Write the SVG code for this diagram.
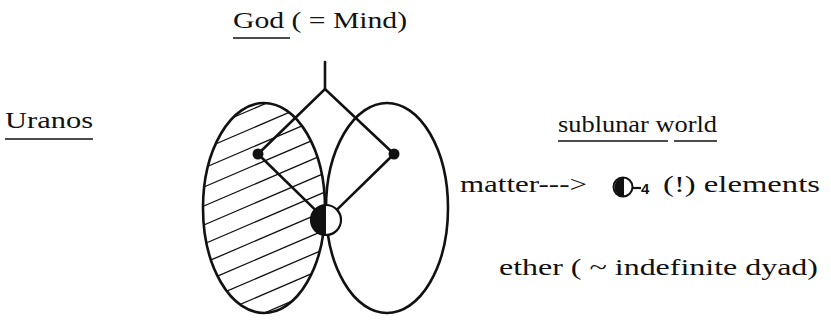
<svg xmlns="http://www.w3.org/2000/svg" width="831" height="321" viewBox="0 0 831 321">
<style>
text{font-family:'Liberation Serif','DejaVu Serif',serif;font-size:24px;fill:#111}
.ln{stroke:#111;stroke-width:2.6;fill:none;stroke-linecap:round;stroke-linejoin:miter}
.ul{stroke:#111;stroke-width:1.6}
.h{stroke:#111;stroke-width:1.3}
</style>
<defs>
<clipPath id="lc"><ellipse cx="264" cy="208" rx="61" ry="105"/></clipPath>
</defs>
<rect width="831" height="321" fill="#fff"/>
<g id="uranos-sphere">
<g clip-path="url(#lc)">
<g id="hatch">
<line class="h" x1="190" y1="60" x2="340" y2="-4.5"/>
<line class="h" x1="190" y1="79" x2="340" y2="14.5"/>
<line class="h" x1="190" y1="98" x2="340" y2="33.5"/>
<line class="h" x1="190" y1="117" x2="340" y2="52.5"/>
<line class="h" x1="190" y1="136" x2="340" y2="71.5"/>
<line class="h" x1="190" y1="155" x2="340" y2="90.5"/>
<line class="h" x1="190" y1="174" x2="340" y2="109.5"/>
<line class="h" x1="190" y1="193" x2="340" y2="128.5"/>
<line class="h" x1="190" y1="212" x2="340" y2="147.5"/>
<line class="h" x1="190" y1="231" x2="340" y2="166.5"/>
<line class="h" x1="190" y1="250" x2="340" y2="185.5"/>
<line class="h" x1="190" y1="269" x2="340" y2="204.5"/>
<line class="h" x1="190" y1="288" x2="340" y2="223.5"/>
<line class="h" x1="190" y1="307" x2="340" y2="242.5"/>
<line class="h" x1="190" y1="326" x2="340" y2="261.5"/>
<line class="h" x1="190" y1="345" x2="340" y2="280.5"/>
<line class="h" x1="190" y1="364" x2="340" y2="299.5"/>
<line class="h" x1="190" y1="383" x2="340" y2="318.5"/>
</g>
</g>
<ellipse class="ln" cx="264" cy="208" rx="61" ry="105"/>
</g>
<g id="sublunar-sphere">
<ellipse class="ln" cx="387" cy="208" rx="61" ry="105"/>
</g>
<g id="connectors">
<polyline class="ln" points="325,62 325,89"/>
<polyline class="ln" points="258,154 325,89 394,154"/>
<line class="ln" x1="258" y1="154" x2="315" y2="209.6"/>
<line class="ln" x1="394" y1="154" x2="337" y2="209.6"/>
</g>
<g id="dot-left"><circle cx="258" cy="154" r="5.5" fill="#111"/></g>
<g id="dot-right"><circle cx="394" cy="154" r="5.5" fill="#111"/></g>
<g id="center-node">
<circle cx="326" cy="220" r="15" fill="#fff" stroke="#111" stroke-width="2.2"/>
<path d="M326,205 A15,15 0 0 0 326,235 Z" fill="#111"/>
</g>
<g id="god">
<text x="233" y="28" textLength="174" lengthAdjust="spacingAndGlyphs">God ( = Mind)</text>
<line class="ul" x1="233" y1="38" x2="290" y2="38"/>
</g>
<g id="uranos">
<text x="5" y="128" textLength="88" lengthAdjust="spacingAndGlyphs">Uranos</text>
<line class="ul" x1="5" y1="139" x2="93" y2="139"/>
</g>
<g id="sublunar">
<text x="558" y="132" textLength="159" lengthAdjust="spacingAndGlyphs">sublunar world</text>
<line class="ul" x1="558" y1="141" x2="668" y2="141"/>
<line class="ul" x1="674" y1="141" x2="717" y2="141"/>
</g>
<g id="matter">
<text x="460" y="192" textLength="127" lengthAdjust="spacingAndGlyphs">matter---&gt;</text>
<circle cx="623" cy="187" r="9.5" fill="#fff" stroke="#111" stroke-width="2"/>
<path d="M624,177.5 A9.5,9.5 0 0 0 624,196.5 Z" fill="#111"/>
<line x1="632" y1="188" x2="641" y2="188" stroke="#111" stroke-width="2.2"/>
<text x="641" y="194" style="font-family:'Liberation Sans','DejaVu Sans',sans-serif;font-size:15px;font-weight:bold">4</text>
<text x="663" y="192" textLength="157" lengthAdjust="spacingAndGlyphs">(!) elements</text>
</g>
<g id="ether">
<text x="499" y="275" textLength="319" lengthAdjust="spacingAndGlyphs">ether ( ~ indefinite dyad)</text>
</g>
</svg>
